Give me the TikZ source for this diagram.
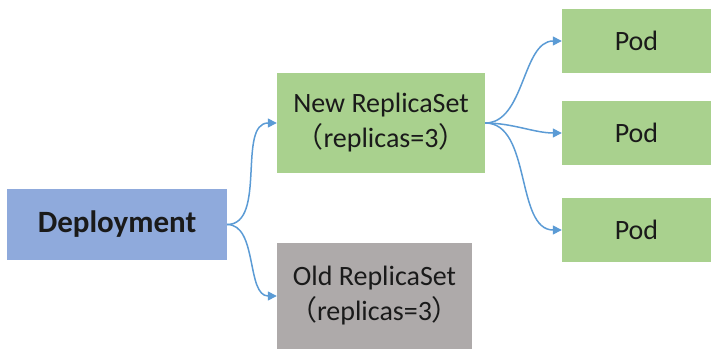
\documentclass[tikz,border=0pt]{standalone}
\usepackage{fontspec}
\setmainfont{Carlito}
\newfontfamily\cjk{Noto Sans CJK SC}
\usetikzlibrary{arrows.meta}
\definecolor{depblue}{HTML}{8FAADC}
\definecolor{rsgreen}{HTML}{A9D18E}
\definecolor{rsgray}{HTML}{AEAAAA}
\definecolor{arrblue}{HTML}{5B9BD5}
\definecolor{txt}{HTML}{1A1A1A}
\tikzset{
  box/.style={draw=none, inner sep=0pt, align=center, text=txt, font=\fontsize{28}{35}\selectfont},
  conn/.style={draw=arrblue, line width=1.5pt, -{Triangle[length=9pt,width=9pt]}, out=0, in=180, looseness=0.9},
}
\newcommand{\lp}{{\cjk （}}
\newcommand{\rp}{{\cjk ）}}
\begin{document}
\begin{tikzpicture}[x=1pt,y=-1pt]
\useasboundingbox (0,0) rectangle (721,356);
\node[box, fill=depblue, minimum width=220pt, minimum height=71pt,
      font=\fontsize{31}{36}\selectfont\bfseries] (dep) at (117,224.5) {Deployment};
\node[box, fill=rsgreen, minimum width=208pt, minimum height=100pt] (new) at (381,123)
  {New ReplicaSet\\\lp replicas=3\rp};
\node[box, fill=rsgray, minimum width=195pt, minimum height=106pt] (old) at (374.5,296)
  {Old ReplicaSet\\\lp replicas=3\rp};
\foreach \i/\y in {1/41,2/133,3/230}{
  \node[box, fill=rsgreen, minimum width=149pt, minimum height=64pt] (pod\i) at (636.5,\y) {Pod};
}
\draw[conn] (dep.east) to (new.west);
\draw[conn] (dep.east) to (old.west);
\draw[conn] (new.east) to (pod1.west);
\draw[conn] (new.east) to (pod2.west);
\draw[conn] (new.east) to (pod3.west);
\end{tikzpicture}
\end{document}
